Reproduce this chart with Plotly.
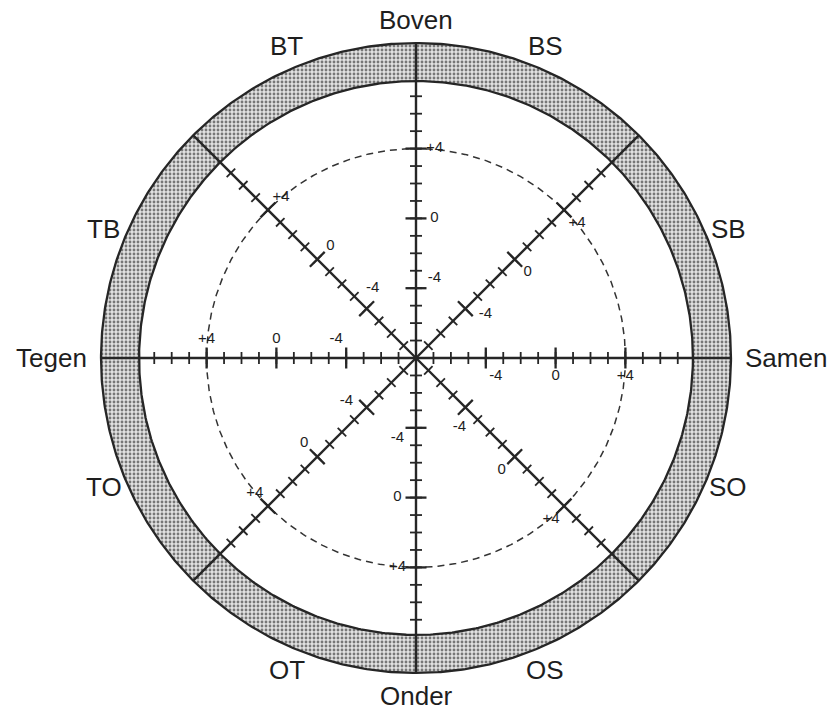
import numpy as np
import plotly.graph_objects as go

# ---------------- data ----------------
octant_labels = ["Boven", "BS", "SB", "Samen", "SO", "OS", "Onder", "OT", "TO", "Tegen", "TB", "BT"]
label_angles_deg = [90, 67.5, 22.5, 0, -22.5, -67.5, -90, -112.5, -157.5, 180, 157.5, 112.5]
axis_angles_deg = [90, 45, 0, -45, -90, -135, 180, 135]
center_value = -8            # scale value at the centre of the rose
tick_values = list(range(-7, 8))
major_tick_values = [-4, 0, 4]
tick_label_values = [4, 0, -4]
tick_label_texts = ["+4", "0", "-4"]
dashed_circle_value = 4
inner_ring_value = 7.87
outer_ring_value = 10.05

# ---------------- geometry helpers ----------------
PX = 17.45                    # pixels per scale unit
W, H = 836, 714
CX, CY = 416, 358             # centre in figure pixels
LINE = "#262626"
TEXT = "#1e1e1e"
FONT = "Liberation Sans, Arial, sans-serif"


def dist(v):
    return v - center_value


def pt(r, ang):
    a = np.deg2rad(ang)
    return r * np.cos(a), r * np.sin(a)


def circle(r, n=721, reverse=False):
    t = np.linspace(0, 360, n)
    if reverse:
        t = t[::-1]
    a = np.deg2rad(t)
    return list(r * np.cos(a)), list(r * np.sin(a))


fig = go.Figure()

r_in = dist(inner_ring_value)
r_out = dist(outer_ring_value)
r_dash = dist(dashed_circle_value)

# stippled band
ox, oy = circle(r_out)
ix, iy = circle(r_in, reverse=True)
fig.add_trace(go.Scatter(
    x=ox + ix, y=oy + iy, mode="lines", fill="toself",
    line=dict(width=0, color="rgba(0,0,0,0)"),
    fillcolor="#dcdcdc",
    fillpattern=dict(shape=".", fgcolor="#777777", bgcolor="#e2e2e2",
                     size=4, solidity=0.4, fillmode="replace"),
    hoverinfo="skip", showlegend=False))

# ring outlines
for r in (r_in, r_out):
    x, y = circle(r)
    fig.add_trace(go.Scatter(x=x, y=y, mode="lines",
                             line=dict(color=LINE, width=2.3),
                             hoverinfo="skip", showlegend=False))

# dashed circle at +4
x, y = circle(r_dash)
fig.add_trace(go.Scatter(x=x, y=y, mode="lines",
                         line=dict(color="#333333", width=1.5, dash="7px,5px"),
                         hoverinfo="skip", showlegend=False))

# axes (rays) through the band
rx, ry = [], []
for ang in axis_angles_deg:
    x1, y1 = pt(r_out, ang)
    rx += [0, x1, None]
    ry += [0, y1, None]
fig.add_trace(go.Scatter(x=rx, y=ry, mode="lines",
                         line=dict(color=LINE, width=2.4),
                         hoverinfo="skip", showlegend=False))

# tick marks
minor_half = 6 / PX
major_half = 10.5 / PX
for vals, half, w in ((tick_values, minor_half, 1.8), (major_tick_values, major_half, 2.3)):
    tx, ty = [], []
    for ang in axis_angles_deg:
        pa = np.deg2rad(ang + 90)
        for v in vals:
            cx, cy = pt(dist(v), ang)
            tx += [cx - half * np.cos(pa), cx + half * np.cos(pa), None]
            ty += [cy - half * np.sin(pa), cy + half * np.sin(pa), None]
    fig.add_trace(go.Scatter(x=tx, y=ty, mode="lines",
                             line=dict(color=LINE, width=w),
                             hoverinfo="skip", showlegend=False))

# tick labels (side rotated -90 deg from each ray)
lx, ly, lt = [], [], []
perp = 18.5 / PX
for ang in axis_angles_deg:
    side = np.deg2rad(ang - 90)
    for v, t in zip(tick_label_values, tick_label_texts):
        along = dist(v) + (10 / PX if v < 0 else 0)
        cx, cy = pt(along, ang)
        lx.append(cx + perp * np.cos(side))
        ly.append(cy + perp * np.sin(side))
        lt.append(t)
fig.add_trace(go.Scatter(x=lx, y=ly, text=lt, mode="text",
                         textposition="middle center",
                         textfont=dict(family=FONT, size=15, color=TEXT),
                         hoverinfo="skip", showlegend=False))

# octant labels around the rose
for name, ang in zip(octant_labels, label_angles_deg):
    c = np.cos(np.deg2rad(ang))
    if c > 0.95:
        r, xa = 327 / PX, "left"
    elif c < -0.95:
        r, xa = 327 / PX, "right"
    else:
        r, xa = 338 / PX, "center"
    x0, y0 = pt(r, ang)
    fig.add_annotation(x=x0, y=y0, text=name, showarrow=False,
                       xanchor=xa, yanchor="middle",
                       font=dict(family=FONT, size=26, color=TEXT))

fig.update_xaxes(range=[-CX / PX, (W - CX) / PX], visible=False, fixedrange=True)
fig.update_yaxes(range=[-(H - CY) / PX, CY / PX], visible=False, fixedrange=True)
fig.update_layout(width=W, height=H, margin=dict(l=0, r=0, t=0, b=0),
                  paper_bgcolor="white", plot_bgcolor="white",
                  showlegend=False, hovermode=False)

fig.write_html("out.html",
               config={"displayModeBar": False, "staticPlot": True},
               post_script="document.body.style.margin='0';"
                           "document.documentElement.style.overflow='hidden';")
